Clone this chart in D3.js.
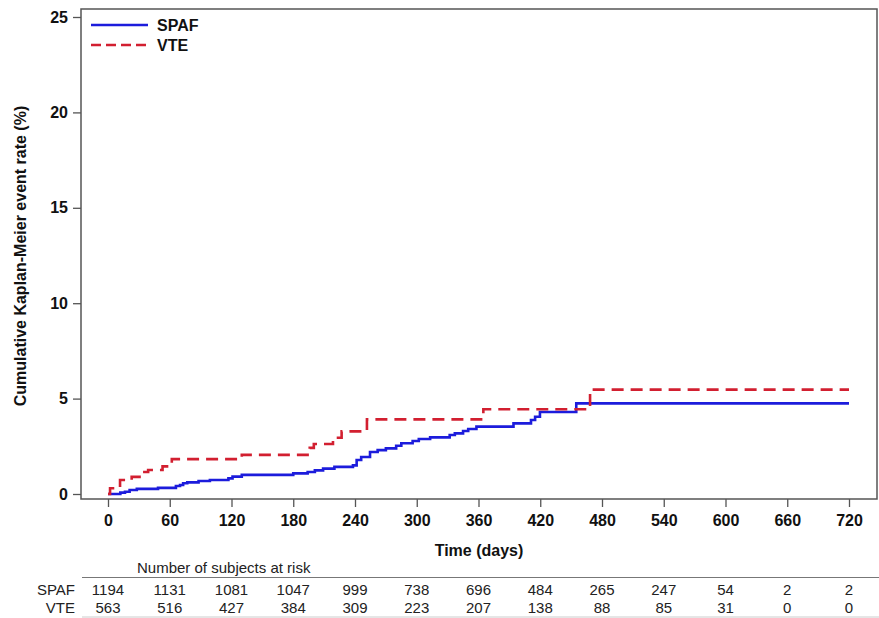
<!DOCTYPE html>
<html><head><meta charset="utf-8">
<script src="https://cdn.jsdelivr.net/npm/d3@7"></script>
<style>body{margin:0;background:#fff}svg{display:block}</style>
</head><body>
<svg id="c" width="879" height="618"></svg>
<script>
// ---- data ----
const seriesNames = ["SPAF", "VTE"];
const spafDays = [0,12,16.5,21,28,48.6,66,70,73,77,88,99,117,121,130,180,194,201,209,220,238,241.6,246,254.6,262,270,280,285,296,302,313,332,337,345,350,358,394,411,415,419.7,455,720];
const spafRate = [0,0.07,0.12,0.21,0.27,0.32,0.42,0.47,0.56,0.61,0.68,0.73,0.82,0.91,1.0,1.08,1.15,1.24,1.33,1.42,1.5,1.78,1.94,2.2,2.3,2.39,2.53,2.66,2.78,2.88,2.97,3.09,3.18,3.3,3.41,3.53,3.7,3.88,4.05,4.3,4.75,4.75];
const vteDays = [0,2,11.7,23,33,39,53,62,130,196,200,218.6,227,251.6,364.7,468.4,720];
const vteRate = [0,0.3,0.73,0.9,1.15,1.26,1.45,1.83,2.05,2.42,2.62,2.95,3.28,3.91,4.44,5.47,5.47];
const xTicks = [0,60,120,180,240,300,360,420,480,540,600,660,720];
const yTicks = [0,5,10,15,20,25];
const riskSPAF = [1194,1131,1081,1047,999,738,696,484,265,247,54,2,2];
const riskVTE = [563,516,427,384,309,223,207,138,88,85,31,0,0];

const colors = {SPAF:"#1c1cdc", VTE:"#d21f30"};
const svg = d3.select("#c");
const x = d3.scaleLinear().domain([0,720]).range([108,849]);
const y = d3.scaleLinear().domain([0,25]).range([494,17]);
const frame = {l:81, t:9, r:877, b:499};

// frame
svg.append("rect").attr("x",frame.l).attr("y",frame.t).attr("width",frame.r-frame.l).attr("height",frame.b-frame.t)
  .attr("fill","none").attr("stroke","#555").attr("stroke-width",1.5);

// y axis
const yAxis = svg.append("g").attr("transform",`translate(${frame.l},0)`)
  .call(d3.axisLeft(y).tickValues(yTicks).tickSize(8).tickPadding(5).tickFormat(d3.format("d")));
yAxis.select(".domain").remove();
yAxis.selectAll("line").attr("stroke","#555").attr("stroke-width",1.3);
yAxis.selectAll("text").attr("font-family","Liberation Sans, Arial, sans-serif").attr("font-size",16).attr("font-weight","bold").attr("fill","#111");

// x axis
const xAxis = svg.append("g").attr("transform",`translate(0,${frame.b})`)
  .call(d3.axisBottom(x).tickValues(xTicks).tickSize(8).tickPadding(8).tickFormat(d3.format("d")));
xAxis.select(".domain").remove();
xAxis.selectAll("line").attr("stroke","#555").attr("stroke-width",1.3);
xAxis.selectAll("text").attr("font-family","Liberation Sans, Arial, sans-serif").attr("font-size",16).attr("font-weight","bold").attr("fill","#111");

// titles
svg.append("text").attr("x",479).attr("y",556).attr("text-anchor","middle")
  .attr("font-family","Liberation Sans, Arial, sans-serif").attr("font-size",16).attr("font-weight","bold").attr("fill","#111").text("Time (days)");
svg.append("text").attr("transform","translate(26,256) rotate(-90)").attr("text-anchor","middle")
  .attr("font-family","Liberation Sans, Arial, sans-serif").attr("font-size",16).attr("font-weight","bold").attr("fill","#111")
  .text("Cumulative Kaplan-Meier event rate (%)");

// curves
const line = d3.line().x(d=>x(d[0])).y(d=>y(d[1])).curve(d3.curveStepAfter);
const spaf = spafDays.map((d,i)=>[d,spafRate[i]]);
const vte = vteDays.map((d,i)=>[d,vteRate[i]]);
svg.append("path").datum(spaf).attr("d",line).attr("fill","none").attr("stroke",colors.SPAF).attr("stroke-width",2.6);
svg.append("path").datum(vte).attr("d",line).attr("fill","none").attr("stroke",colors.VTE).attr("stroke-width",2.6).attr("stroke-dasharray","12,7");

// legend
const leg = [{n:"SPAF",y:25,dash:null},{n:"VTE",y:45,dash:"10,5"}];
leg.forEach(l=>{
  svg.append("line").attr("x1",91).attr("x2",148).attr("y1",l.y).attr("y2",l.y)
    .attr("stroke",colors[l.n]).attr("stroke-width",2.6).attr("stroke-dasharray",l.dash);
  svg.append("text").attr("x",157).attr("y",l.y+6).attr("font-family","Liberation Sans, Arial, sans-serif")
    .attr("font-size",16).attr("font-weight","bold").attr("fill","#111").text(l.n);
});

// risk table
const tf = "Liberation Sans Narrow, Arial Narrow, Liberation Sans, sans-serif";
svg.append("text").attr("x",137).attr("y",573).attr("font-family",tf).attr("font-size",15).attr("fill","#222").text("Number of subjects at risk");
svg.append("line").attr("x1",82).attr("x2",879).attr("y1",577.5).attr("y2",577.5).attr("stroke","#777").attr("stroke-width",1.2);
svg.append("line").attr("x1",82).attr("x2",879).attr("y1",617).attr("y2",617).attr("stroke","#ccc").attr("stroke-width",1);
[[seriesNames[0],riskSPAF,595],[seriesNames[1],riskVTE,613]].forEach(([n,arr,yy])=>{
  svg.append("text").attr("x",75).attr("y",yy).attr("text-anchor","end").attr("font-family",tf).attr("font-size",15).attr("fill","#222").text(n);
  svg.append("g").selectAll("text").data(arr).join("text")
    .attr("x",(d,i)=>x(xTicks[i])).attr("y",yy).attr("text-anchor","middle")
    .attr("font-family",tf).attr("font-size",15).attr("fill","#222").text(d=>d);
});
</script>
</body></html>
